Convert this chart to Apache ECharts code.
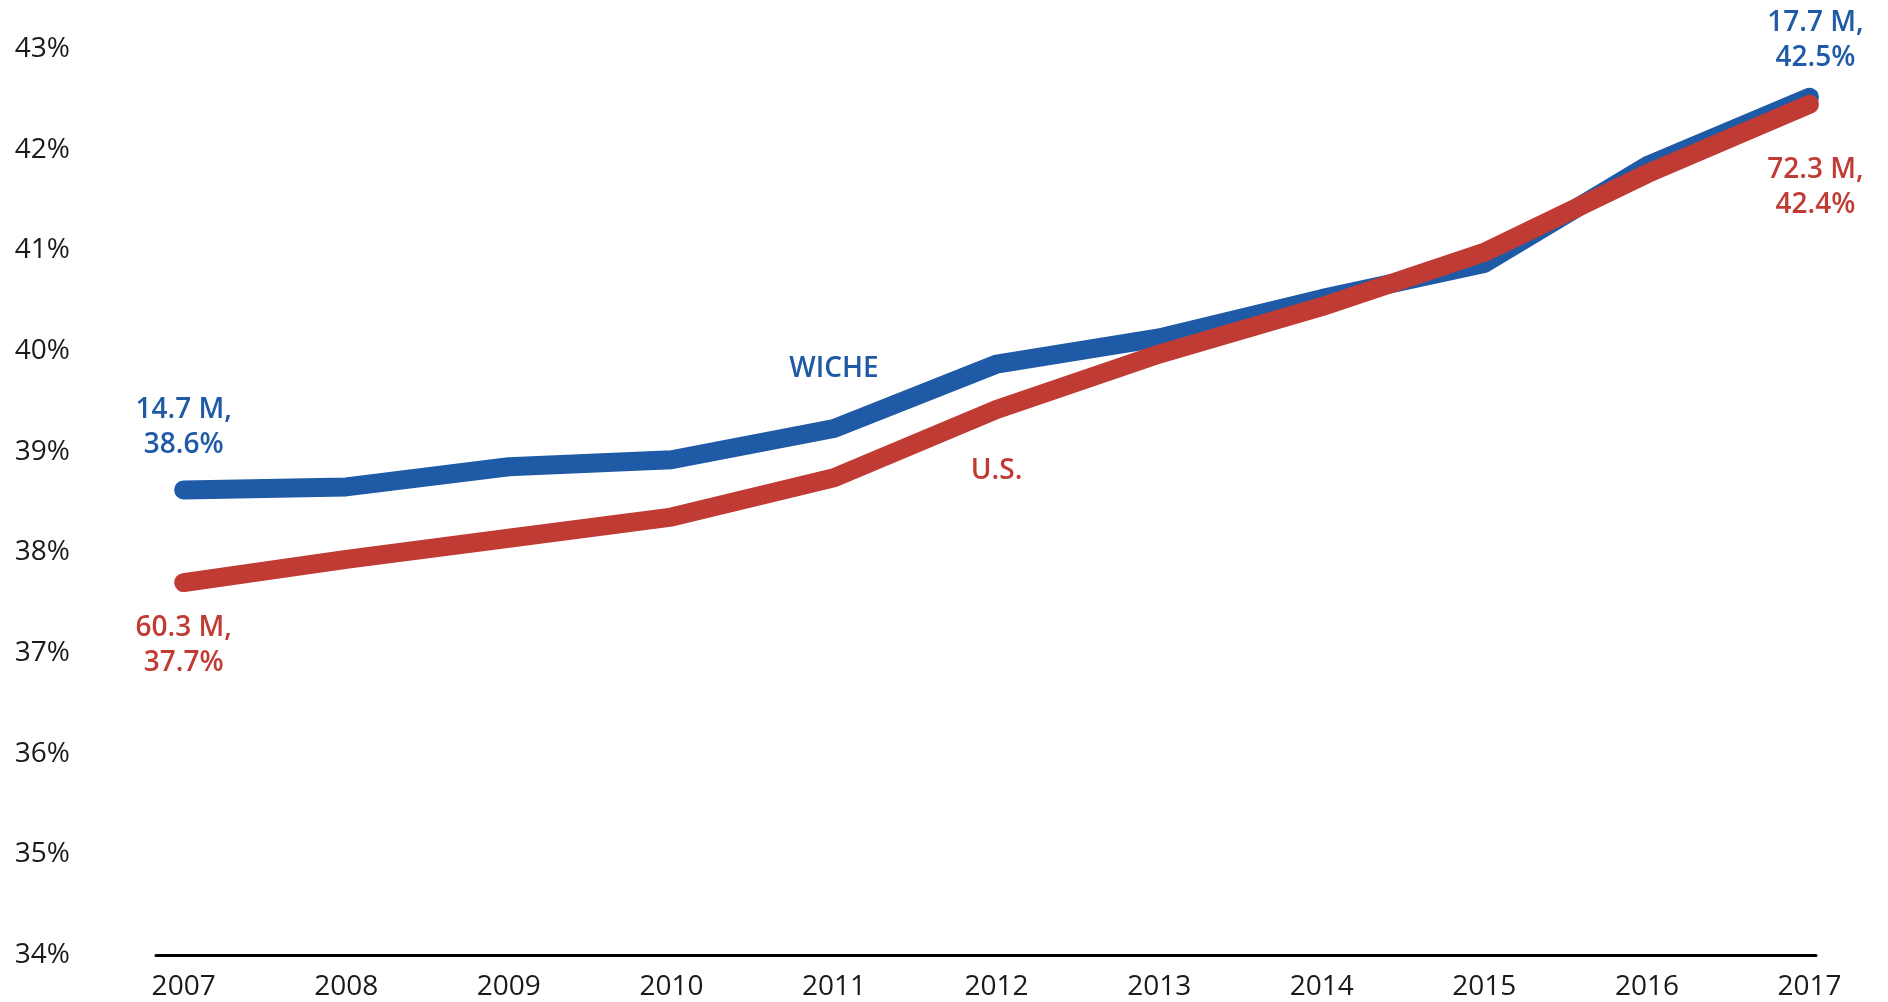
<!DOCTYPE html>
<html>
<head>
<meta charset="utf-8">
<script src="https://cdn.jsdelivr.net/npm/echarts@6/dist/echarts.min.js"></script>
<style>
  html, body { margin: 0; padding: 0; background: #fff; }
  #chart { width: 1888px; height: 1002px; }
</style>
</head>
<body>
<div id="chart"></div>
<script>
var years = [2007, 2008, 2009, 2010, 2011, 2012, 2013, 2014, 2015, 2016, 2017];
var wicheValues = [38.62, 38.65, 38.85, 38.92, 39.23, 39.87, 40.13, 40.52, 40.87, 41.84, 42.52];
var usValues = [37.7, 37.93, 38.14, 38.35, 38.74, 39.42, 39.97, 40.44, 40.98, 41.76, 42.45];
var yTicks = [34, 35, 36, 37, 38, 39, 40, 41, 42, 43];

var blue = '#1f5aa6';
var red = '#c13b35';
var font = 'Open Sans';

// per-point labels: first/last get the "M, %" text, one point carries the series name
function buildData(values, color, labels) {
  return values.map(function (v, i) {
    var item = { value: [years[i], v] };
    if (labels[i]) {
      item.label = Object.assign({
        show: true,
        color: color,
        fontFamily: font,
        fontWeight: 600,
        fontSize: 28,
        lineHeight: 35,
        align: 'center'
      }, labels[i]);
    }
    return item;
  });
}

var wicheLabels = {};
wicheLabels[0] = { formatter: '14.7 M,\n38.6%', position: 'top', distance: 27 };
wicheLabels[4] = { formatter: 'WICHE', position: 'top', distance: 42 };
wicheLabels[10] = { formatter: '17.7 M,\n42.5%', position: 'top', distance: 22, offset: [6, 0] };

var usLabels = {};
usLabels[0] = { formatter: '60.3 M,\n37.7%', position: 'bottom', distance: 28 };
usLabels[5] = { formatter: 'U.S.', position: 'bottom', distance: 44 };
usLabels[10] = { formatter: '72.3 M,\n42.4%', position: 'bottom', distance: 48, offset: [6, 0] };

var chart = echarts.init(document.getElementById('chart'));

var option = {
  animation: false,
  backgroundColor: '#fff',
  grid: { left: 156, right: 72, top: 49, bottom: 47, containLabel: false },
  xAxis: {
    type: 'value',
    min: 2006.83,
    max: 2017.04,
    splitLine: { show: false },
    axisLine: { show: true, lineStyle: { color: '#000', width: 3 } },
    axisTick: { show: false },
    axisLabel: {
      customValues: years,
      color: '#1a1a1a',
      fontFamily: font,
      fontSize: 28,
      margin: 18,
      formatter: function (v) { return String(v); }
    }
  },
  yAxis: {
    type: 'value',
    min: 34,
    max: 43,
    interval: 1,
    splitLine: { show: false },
    axisLine: { show: false },
    axisTick: { show: false },
    axisLabel: {
      customValues: yTicks,
      color: '#1a1a1a',
      fontFamily: font,
      fontSize: 28,
      margin: 86,
      formatter: '{value}%'
    }
  },
  series: [
    {
      name: 'WICHE',
      type: 'line',
      data: buildData(wicheValues, blue, wicheLabels),
      symbol: 'circle',
      symbolSize: 0,
      showSymbol: true,
      lineStyle: { color: blue, width: 19, cap: 'round' },
      itemStyle: { color: blue },
      z: 2
    },
    {
      name: 'U.S.',
      type: 'line',
      data: buildData(usValues, red, usLabels),
      symbol: 'circle',
      symbolSize: 0,
      showSymbol: true,
      lineStyle: { color: red, width: 19, cap: 'round' },
      itemStyle: { color: red },
      z: 3
    }
  ]
};

chart.setOption(option);
</script>
</body>
</html>
